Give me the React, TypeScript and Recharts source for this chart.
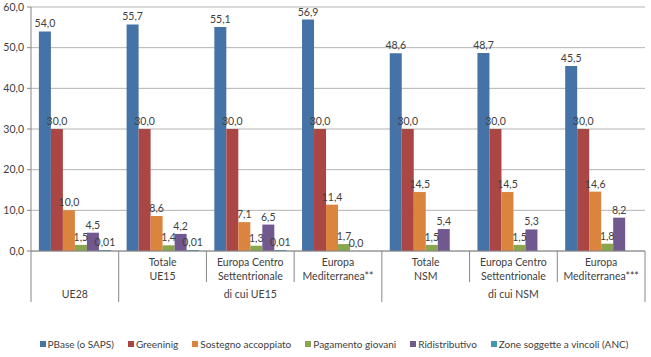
import { BarChart, Bar, XAxis, YAxis, CartesianGrid, LabelList } from "recharts"

// categories (ids) and their first-level labels
const categories = ["ue28", "ue15", "ue15cs", "ue15med", "nsm", "nsmcs", "nsmmed"]
const catLabels = [
  [],
  ["Totale", "UE15"],
  ["Europa Centro", "Settentrionale"],
  ["Europa", "Mediterranea**"],
  ["Totale", "NSM"],
  ["Europa Centro", "Settentrionale"],
  ["Europa", "Mediterranea***"],
]
// second level: label, first and last category index
const groupLabels = ["UE28", "di cui UE15", "di cui NSM"]
const groupFirst = [0, 1, 4]
const groupLast = [0, 3, 6]

const pbase = [54.0, 55.7, 55.1, 56.9, 48.6, 48.7, 45.5]
const greening = [30.0, 30.0, 30.0, 30.0, 30.0, 30.0, 30.0]
const sostegno = [10.0, 8.6, 7.1, 11.4, 14.5, 14.5, 14.6]
const giovani = [1.5, 1.4, 1.3, 1.7, 1.5, 1.5, 1.8]
const ridistributivo = [4.5, 4.2, 6.5, 0.0, 5.4, 5.3, 8.2]
const anc = [0.01, 0.01, 0.01, null, null, null, null]

const yTicks = [0, 10, 20, 30, 40, 50, 60]

const series = [
  { key: "pbase", name: "PBase (o SAPS)", color: "#4572A7", values: pbase, digits: 1 },
  { key: "greening", name: "Greeninig", color: "#AA4643", values: greening, digits: 1 },
  { key: "sostegno", name: "Sostegno accoppiato", color: "#DB843D", values: sostegno, digits: 1 },
  { key: "giovani", name: "Pagamento giovani", color: "#89A54E", values: giovani, digits: 1 },
  { key: "ridistributivo", name: "Ridistributivo", color: "#71588F", values: ridistributivo, digits: 1 },
  { key: "anc", name: "Zone soggette a vincoli (ANC)", color: "#4198AF", values: anc, digits: 2 },
]

const data = categories.map((id, i) => {
  const row: Record<string, any> = { id }
  series.forEach((s) => (row[s.key] = s.values[i]))
  return row
})

const FONT = "Lato, 'Noto Sans', sans-serif"
const TEXT = "#404040"
const AXIS = "#868686"

const fmt = (v: any, digits: number) =>
  v === null || v === undefined ? "" : Number(v).toFixed(digits).replace(".", ",")

// tiny non-zero size so zero values still get their label; ANC 0.01 shows as a thin line
const minSize = (key: string) => (v: any) => {
  if (v === null || v === undefined) return 0
  if (v === 0) return 0.01
  return key === "anc" ? 1 : 0
}

function CategoryTick(props: any) {
  const { x, y, payload, index } = props
  const half = payload && payload.offset ? payload.offset : 43.85
  const lines = catLabels[index] || []
  const fullLeft = groupFirst.includes(index)
  const isLast = index === categories.length - 1
  const g = groupFirst.findIndex((f, gi) => (f + groupLast[gi]) / 2 === index)
  return (
    <g>
      {lines.map((t, li) => (
        <text key={li} x={x} y={y + 15 + li * 14} textAnchor="middle" fontSize={10.5} fontFamily={FONT} fill={TEXT}>
          {t}
        </text>
      ))}
      <line x1={x - half} x2={x - half} y1={y} y2={y + (fullLeft ? 51 : 31)} stroke={AXIS} />
      {isLast && <line x1={x + half} x2={x + half} y1={y} y2={y + 51} stroke={AXIS} />}
      {g >= 0 && (
        <text x={x} y={y + 47} textAnchor="middle" fontSize={10.5} fontFamily={FONT} fill={TEXT}>
          {groupLabels[g]}
        </text>
      )}
    </g>
  )
}

export default function App() {
  return (
    <div style={{ position: "absolute", left: 0, top: 0, width: 651, height: 357, background: "#fff" }}>
      <BarChart
        width={651}
        height={357}
        data={data}
        margin={{ top: 7, right: 6, left: 0, bottom: 0 }}
        barCategoryGap="9%"
        barGap={0}
      >
        <CartesianGrid vertical={false} stroke="#b3b3b3" />
        <XAxis
          dataKey="id"
          height={106}
          interval={0}
          tickSize={0}
          tickMargin={0}
          tickLine={false}
          axisLine={{ stroke: AXIS }}
          tick={<CategoryTick />}
        />
        <YAxis
          width={31}
          domain={[0, 60]}
          ticks={yTicks}
          tickSize={4}
          tickMargin={3}
          axisLine={{ stroke: AXIS }}
          tickLine={{ stroke: AXIS }}
          tick={{ fontSize: 10.5, fontFamily: FONT, fill: TEXT }}
          tickFormatter={(v: number) => fmt(v, 1)}
        />
        {series.map((s) => (
          <Bar
            key={s.key}
            dataKey={s.key}
            name={s.name}
            fill={s.color}
            isAnimationActive={false}
            minPointSize={minSize(s.key)}
          >
            <LabelList
              dataKey={s.key}
              position="top"
              offset={4}
              formatter={(v: any) => fmt(v, s.digits)}
              style={{ fontSize: 10.5, fontFamily: FONT, fill: TEXT }}
            />
          </Bar>
        ))}
      </BarChart>
      <div
        style={{
          position: "absolute",
          top: 338,
          left: 0,
          width: 651,
          paddingLeft: 17,
          boxSizing: "border-box",
          display: "flex",
          justifyContent: "center",
          alignItems: "center",
          fontFamily: FONT,
          fontSize: 10,
          color: TEXT,
        }}
      >
        {series.map((s, i) => (
          <div key={s.key} style={{ display: "flex", alignItems: "center", marginRight: i < series.length - 1 ? 14 : 0 }}>
            <span style={{ width: 6, height: 6, background: s.color, marginRight: 2, display: "inline-block" }} />
            <span>{s.name}</span>
          </div>
        ))}
      </div>
    </div>
  )
}
